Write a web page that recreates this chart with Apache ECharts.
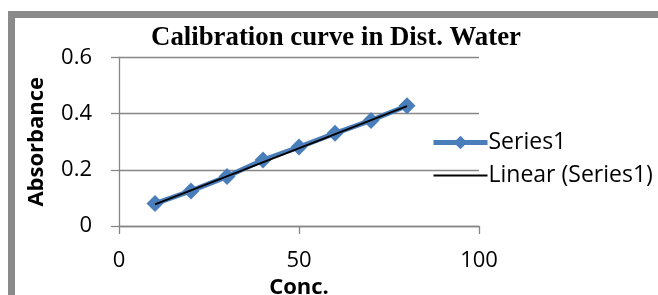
<!DOCTYPE html>
<html><head><meta charset="utf-8">
<script src="https://cdn.jsdelivr.net/npm/echarts@6/dist/echarts.min.js"></script>
<style>html,body{margin:0;padding:0;background:#fff}#c{width:658px;height:295px}</style>
</head><body><div id="c"></div>
<script>
var titleText = 'Calibration curve in Dist. Water';
var xName = 'Conc.';
var yName = 'Absorbance';
var conc = [10, 20, 30, 40, 50, 60, 70, 80];
var absorbance = [0.080, 0.125, 0.176, 0.235, 0.281, 0.330, 0.376, 0.428];
var trendX = [10, 80];
var trendY = [0.077, 0.427];
var seriesNames = ['Series1', 'Linear (Series1)'];

var chart = echarts.init(document.getElementById('c'), null, {renderer: 'canvas'});
var sans = '"Open Sans", sans-serif';
var gray = '#868686';
chart.setOption({
  animation: false,
  backgroundColor: '#fff',
  graphic: [{
    type: 'rect', silent: true, z: 0,
    shape: {x: 11.5, y: 14.5, width: 800, height: 500},
    style: {fill: 'none', stroke: '#8a8a8a', lineWidth: 7}
  }],
  title: {
    text: titleText, left: 331, top: 20, textAlign: 'center',
    textStyle: {fontFamily: '"Liberation Serif", serif', fontWeight: 'bold', fontSize: 26.8, color: '#000'}
  },
  legend: {
    orient: 'vertical', left: 426, top: 126, itemWidth: 54, itemHeight: 17, itemGap: 10,
    textStyle: {fontFamily: sans, fontSize: 23, color: '#000', padding: [0,0,0,-4]},
    data: [
      {name: seriesNames[0], lineStyle: {width: 5, color: '#4a7ebb'}},
      {name: seriesNames[1], lineStyle: {width: 2, color: '#000'}, itemStyle: {opacity: 0}}
    ]
  },
  grid: {left: 119, right: 179, top: 57.5, bottom: 69, containLabel: false, outerBoundsMode: 'none'},
  xAxis: {
    type: 'value', min: 0, max: 100, interval: 50,
    name: xName, nameLocation: 'middle', nameGap: 42,
    nameTextStyle: {fontFamily: sans, fontWeight: 'bold', fontSize: 22, color: '#000'},
    axisLine: {show: true, lineStyle: {color: gray, width: 1.3}},
    axisTick: {show: true, inside: false, length: 8, lineStyle: {color: gray, width: 1.3}},
    axisLabel: {fontFamily: sans, fontSize: 22, color: '#000', margin: 24},
    splitLine: {show: false}
  },
  yAxis: {
    type: 'value', min: 0, max: 0.6, interval: 0.2,
    name: yName, nameLocation: 'middle', nameGap: 71,
    nameTextStyle: {fontFamily: sans, fontWeight: 'bold', fontSize: 22, color: '#000'},
    axisLine: {show: true, lineStyle: {color: gray, width: 1.3}},
    axisTick: {show: true, inside: false, length: 8, lineStyle: {color: gray, width: 1.3}},
    axisLabel: {fontFamily: sans, fontSize: 22, color: '#000', margin: 27, padding: [4, 0, 0, 0]},
    splitLine: {show: true, lineStyle: {color: gray, width: 1.3}}
  },
  series: [{
    name: seriesNames[0], type: 'line',
    data: conc.map(function (x, i) { return [x, absorbance[i]]; }),
    symbol: 'diamond', symbolSize: 17,
    itemStyle: {color: '#4a7ebb'},
    lineStyle: {color: '#4a7ebb', width: 5}, z: 2
  }, {
    name: seriesNames[1], type: 'line',
    data: trendX.map(function (x, i) { return [x, trendY[i]]; }),
    symbol: 'none',
    itemStyle: {color: '#000'},
    lineStyle: {color: '#000', width: 2}, z: 3
  }]
});
</script></body></html>
